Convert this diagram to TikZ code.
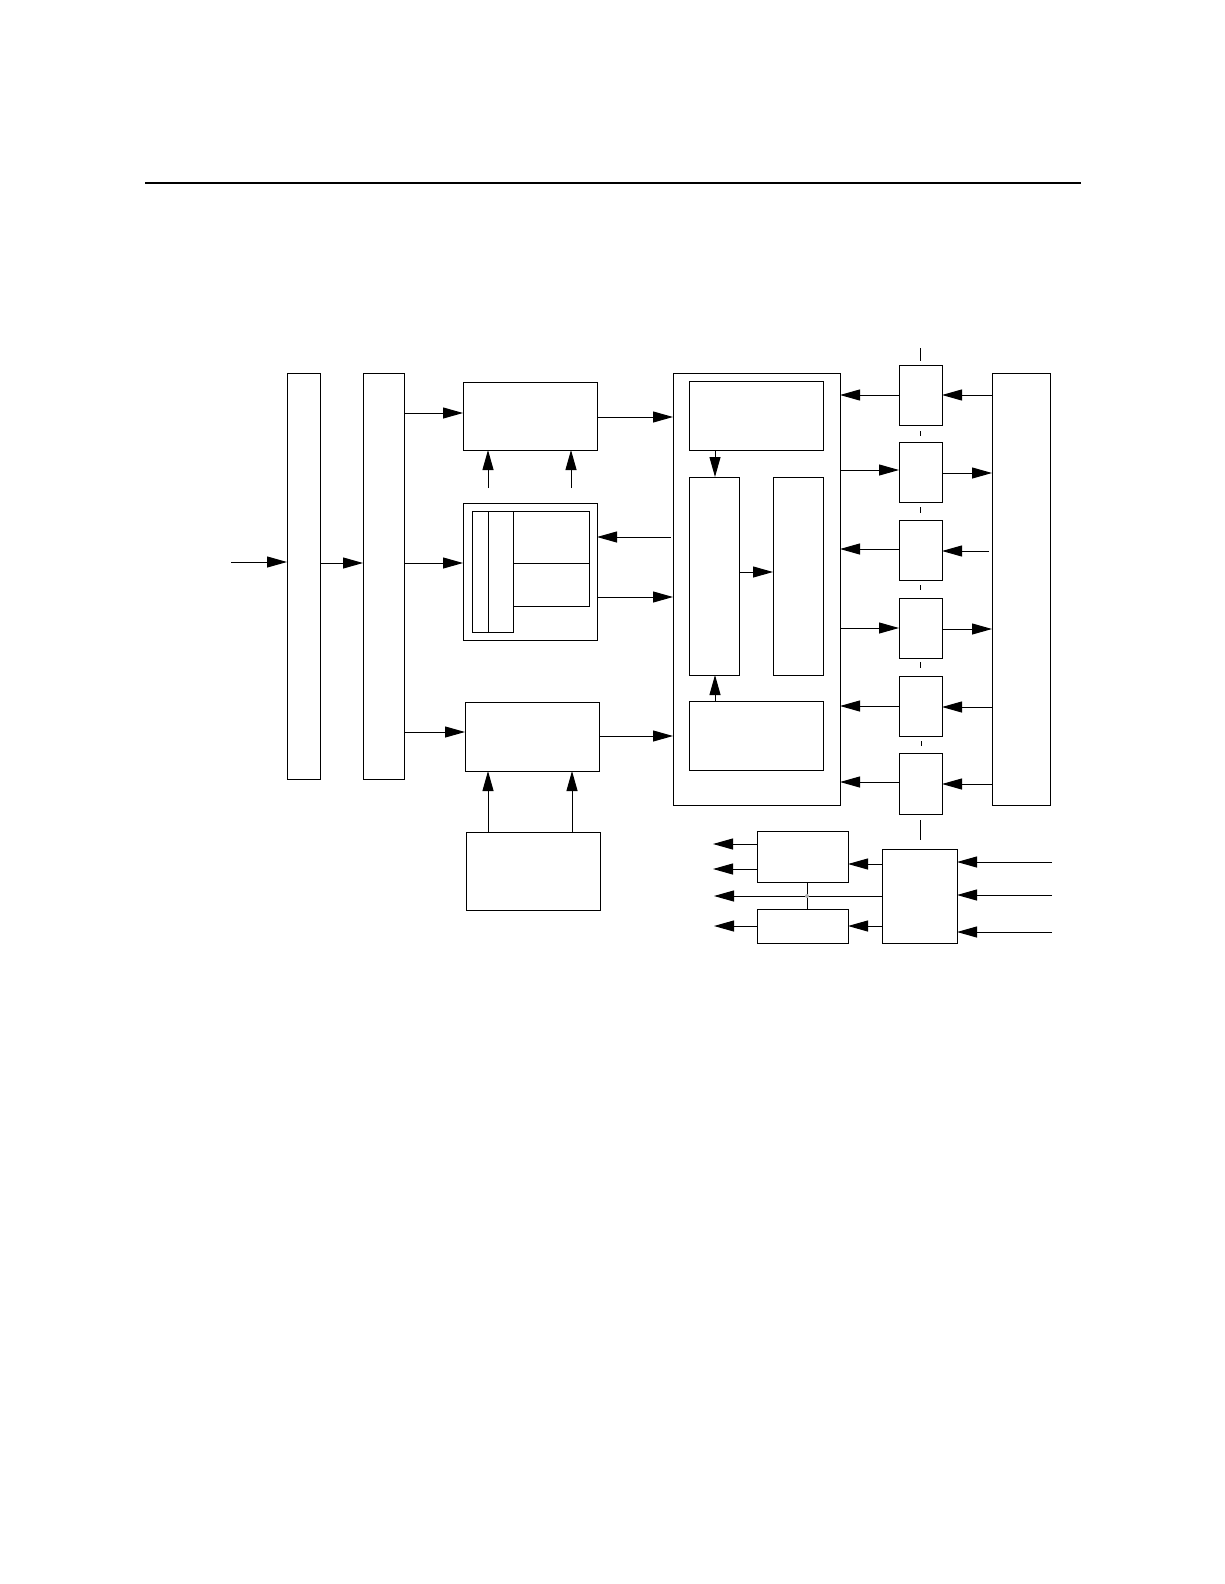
\documentclass[tikz,border=0pt]{standalone}
\usetikzlibrary{arrows.meta,calc}
\begin{document}
\begin{tikzpicture}[x=1pt,y=-1pt,
  line width=1pt,
  bx/.style={draw, rectangle, inner sep=0pt, outer sep=0pt},
  arr/.style={-{Triangle[length=20pt,width=11pt]}},
  tick/.style={line width=1pt}]
\useasboundingbox (0,0) rectangle (1224,1584);
% top rule
\coordinate (r1) at (145,183);
\coordinate (r2) at (1081,183);
\draw[line width=2pt] (r1) -- (r2);
% helper: boxes by corners
\newcommand\mybox[5]{\node[bx, minimum width={#4-#2}, minimum height={#5-#3}] (#1) at ({(#2+#4)/2},{(#3+#5)/2}) {};}
\mybox{A}{287}{373}{320}{779}
\mybox{B}{363}{373}{404}{779}
\mybox{C}{463}{382}{597}{450}
\mybox{D}{463}{503}{597}{640}
\mybox{Da}{472}{511}{513}{632}
\mybox{Db}{513}{511}{589}{606}
\draw (Da.north -| 488,0) -- (Da.south -| 488,0);
\draw (Db.west |- 0,563) -- (Db.east |- 0,563);
\mybox{F}{465}{702}{599}{771}
\mybox{G}{466}{832}{600}{910}
\mybox{E}{673}{373}{840}{805}
\mybox{Ea}{689}{381}{823}{450}
\mybox{Eb}{689}{477}{739}{675}
\mybox{Ec}{773}{477}{823}{675}
\mybox{Ed}{689}{701}{823}{770}
\mybox{S1}{899}{365}{942}{425}
\mybox{S2}{899}{442}{942}{502}
\mybox{S3}{899}{520}{942}{580}
\mybox{S4}{899}{598}{942}{658}
\mybox{S5}{899}{676}{942}{736}
\mybox{S6}{899}{753}{942}{814}
\mybox{R}{992}{373}{1050}{805}
\mybox{H}{757}{831}{848}{882}
\mybox{I}{757}{909}{848}{943}
\mybox{J}{882}{849}{957}{943}
% ticks
\coordinate (t0a) at (920,348); \coordinate (t0b) at (920,361);
\coordinate (t1a) at (920,431); \coordinate (t1b) at (920,436);
\coordinate (t2a) at (920,507); \coordinate (t2b) at (920,513);
\coordinate (t3a) at (920,585); \coordinate (t3b) at (920,590);
\coordinate (t4a) at (920,662); \coordinate (t4b) at (920,668);
\coordinate (t5a) at (921,741); \coordinate (t5b) at (921,746);
\coordinate (t6a) at (920,820); \coordinate (t6b) at (920,840);
\foreach \t in {0,...,6} \draw[tick] (t\t a) -- (t\t b);
% input
\coordinate (in) at (231,562);
\draw[arr] (in) -- (A.west |- in);
\draw[arr] (A.east |- 0,563) -- (B.west |- 0,563);
\draw[arr] (B.east |- 0,413) -- (C.west |- 0,413);
\draw[arr] (B.east |- 0,563) -- (D.west |- 0,563);
\draw[arr] (B.east |- 0,732) -- (F.west |- 0,732);
\coordinate (cu1) at (488,488); \coordinate (cu2) at (571,488);
\draw[arr] (cu1) -- (C.south -| cu1);
\draw[arr] (cu2) -- (C.south -| cu2);
\draw[arr] (C.east |- 0,417) -- (E.west |- 0,417);
\draw[arr] (E.west |- 0,537) ++(-2,0) -- (D.east |- 0,537);
\draw[arr] (D.east |- 0,597) -- (E.west |- 0,597);
\draw[arr] (F.east |- 0,736) -- (E.west |- 0,736);
\draw[arr] (G.north -| 488,0) -- (F.south -| 488,0);
\draw[arr] (G.north -| 572,0) -- (F.south -| 572,0);
\draw[arr] (Ea.south -| 715,0) -- (Eb.north -| 715,0);
\draw[arr] (Eb.east |- 0,572) -- (Ec.west |- 0,572);
\draw[arr] (Ed.north -| 715,0) -- (Eb.south -| 715,0);
% S boxes
\draw[arr] (S1.west |- 0,395) -- (E.east |- 0,395);
\draw[arr] (R.west |- 0,395) -- (S1.east |- 0,395);
\draw[arr] (E.east |- 0,470) -- (S2.west |- 0,470);
\draw[arr] (S2.east |- 0,473) -- (R.west |- 0,473);
\draw[arr] (S3.west |- 0,549) -- (E.east |- 0,549);
\draw[arr] (R.west |- 0,551) ++(-3,0) -- (S3.east |- 0,551);
\draw[arr] (E.east |- 0,628) -- (S4.west |- 0,628);
\draw[arr] (S4.east |- 0,629) -- (R.west |- 0,629);
\draw[arr] (S5.west |- 0,706) -- (E.east |- 0,706);
\draw[arr] (R.west |- 0,707) -- (S5.east |- 0,707);
\draw[arr] (S6.west |- 0,782) -- (E.east |- 0,782);
\draw[arr] (R.west |- 0,784) -- (S6.east |- 0,784);
% bottom group
\draw[arr] (J.west |- 0,864) -- (H.east |- 0,864);
\draw[arr] (J.west |- 0,926) -- (I.east |- 0,926);
\coordinate (o1) at (713,844); \coordinate (o2) at (713,869);
\coordinate (o3) at (714,896); \coordinate (o4) at (714,926);
\draw[arr] (H.west |- o1) -- (o1);
\draw[arr] (H.west |- o2) -- (o2);
\draw[arr] (J.west |- o3) -- (o3);
\draw[arr] (I.west |- o4) -- (o4);
\draw (H.south -| 807,0) -- (I.north -| 807,0);
\coordinate (jd) at (807,896);
\fill[gray!60] (jd) circle (2);
\coordinate (i1) at (1052,862); \coordinate (i2) at (1052,895); \coordinate (i3) at (1052,932);
\draw[arr] (i1) -- (J.east |- i1);
\draw[arr] (i2) -- (J.east |- i2);
\draw[arr] (i3) -- (J.east |- i3);
\end{tikzpicture}
\end{document}
